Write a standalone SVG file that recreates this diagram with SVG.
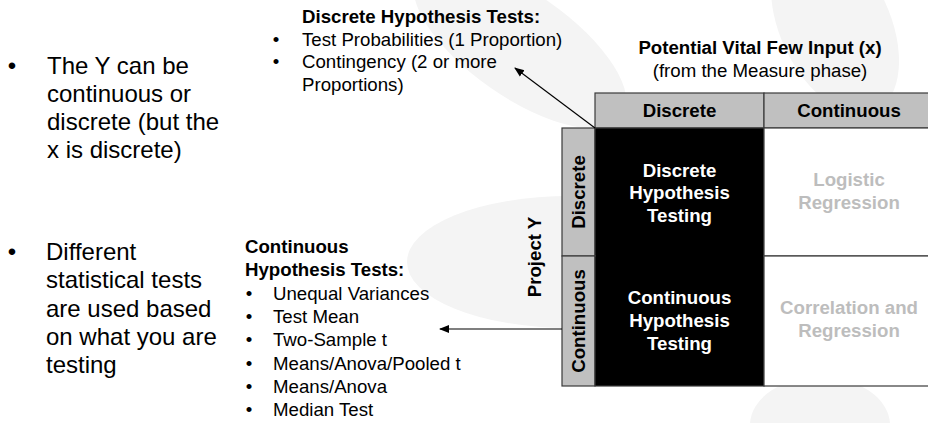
<svg xmlns="http://www.w3.org/2000/svg" width="928" height="423" viewBox="0 0 928 423">
  <defs>
    <style>
      text { font-family: "Liberation Sans", Arial, sans-serif; }
      .big { font-size: 24px; fill: #000; }
      .sm { font-size: 18.67px; fill: #000; }
      .b { font-weight: bold; }
      .hdr { fill: #c0c0c0; stroke: #3a3a3a; stroke-width: 1.2; }
      .blk { fill: #000; stroke: #3a3a3a; stroke-width: 1.2; }
      .wht { fill: #fff; stroke: #3a3a3a; stroke-width: 1.2; }
      .cw { font-size: 18.67px; font-weight: bold; fill: #fff; text-anchor: middle; }
      .cg { font-size: 18.67px; font-weight: bold; fill: #bdbdbd; text-anchor: middle; }
      .ck { font-size: 18.67px; font-weight: bold; fill: #000; text-anchor: middle; }
      .wm { fill: #f4f4f4; }
      .conn { stroke: #000; stroke-width: 1.2; fill: none; marker-end: url(#head); }
    </style>
    <marker id="head" viewBox="0 0 10 10" refX="9" refY="5" markerWidth="10" markerHeight="10" markerUnits="userSpaceOnUse" orient="auto">
      <path d="M0,1 L10,5 L0,9 Z" fill="#000"/>
    </marker>
  </defs>

  <rect width="928" height="423" fill="#fff"/>

  <!-- faint background emblem: petals around the matrix -->
  <g id="watermark">
    <ellipse class="wm" cx="570" cy="262" rx="163" ry="66"/>
    <ellipse class="wm" cx="520" cy="45" rx="125" ry="52" transform="rotate(35 520 45)"/>
    <ellipse class="wm" cx="835" cy="25" rx="55" ry="95" transform="rotate(-25 835 25)"/>
    <ellipse class="wm" cx="820" cy="425" rx="70" ry="48"/>
  </g>

  <!-- left notes -->
  <g id="note-y">
    <text class="big" x="12" y="74" text-anchor="middle">•</text>
    <text class="big" x="47" y="74">The Y can be</text>
    <text class="big" x="47" y="102">continuous or</text>
    <text class="big" x="47" y="130">discrete (but the</text>
    <text class="big" x="47" y="158">x is discrete)</text>
  </g>
  <g id="note-tests">
    <text class="big" x="12" y="260" text-anchor="middle">•</text>
    <text class="big" x="46" y="260">Different</text>
    <text class="big" x="46" y="288">statistical tests</text>
    <text class="big" x="46" y="317">are used based</text>
    <text class="big" x="46" y="345">on what you are</text>
    <text class="big" x="46" y="373">testing</text>
  </g>

  <!-- discrete test list -->
  <g id="discrete-tests">
    <text class="sm b" x="302" y="23">Discrete Hypothesis Tests:</text>
    <text class="sm" x="276" y="45.5" text-anchor="middle">•</text>
    <text class="sm" x="302" y="45.5">Test Probabilities (1 Proportion)</text>
    <text class="sm" x="276" y="68" text-anchor="middle">•</text>
    <text class="sm" x="302" y="68">Contingency (2 or more</text>
    <text class="sm" x="302" y="90.5">Proportions)</text>
  </g>

  <!-- continuous test list -->
  <g id="continuous-tests">
    <text class="sm b" x="245" y="253">Continuous</text>
    <text class="sm b" x="245" y="276">Hypothesis Tests:</text>
    <g class="sm">
      <text x="249" y="299.5" text-anchor="middle">•</text>
      <text x="249" y="323" text-anchor="middle">•</text>
      <text x="249" y="346" text-anchor="middle">•</text>
      <text x="249" y="369.5" text-anchor="middle">•</text>
      <text x="249" y="393" text-anchor="middle">•</text>
      <text x="249" y="416" text-anchor="middle">•</text>
    </g>
    <text class="sm" x="273" y="299.5">Unequal Variances</text>
    <text class="sm" x="273" y="323">Test Mean</text>
    <text class="sm" x="273" y="346">Two-Sample t</text>
    <text class="sm" x="273" y="369.5">Means/Anova/Pooled t</text>
    <text class="sm" x="273" y="393">Means/Anova</text>
    <text class="sm" x="273" y="416">Median Test</text>
  </g>

  <!-- axis titles -->
  <g id="x-title">
    <text class="ck" x="760" y="54">Potential Vital Few Input (x)</text>
    <text class="sm" x="760" y="77" text-anchor="middle">(from the Measure phase)</text>
  </g>
  <g id="y-title">
    <text class="ck" transform="translate(541,257) rotate(-90)">Project Y</text>
  </g>

  <!-- matrix -->
  <g id="col-discrete">
    <rect class="hdr" x="595" y="93" width="169" height="35"/>
    <text class="ck" x="679.5" y="117">Discrete</text>
  </g>
  <g id="col-continuous">
    <rect class="hdr" x="764" y="93" width="170" height="35"/>
    <text class="ck" x="849" y="117">Continuous</text>
  </g>
  <g id="row-discrete">
    <rect class="hdr" x="562" y="128" width="33" height="128"/>
    <text class="ck" transform="translate(585,192) rotate(-90)">Discrete</text>
  </g>
  <g id="row-continuous">
    <rect class="hdr" x="562" y="256" width="33" height="130"/>
    <text class="ck" transform="translate(585,321) rotate(-90)">Continuous</text>
  </g>
  <g id="cell-dd">
    <rect class="blk" x="595" y="128" width="169" height="128"/>
    <text class="cw" x="679.5" y="176.5">Discrete</text>
    <text class="cw" x="679.5" y="199">Hypothesis</text>
    <text class="cw" x="679.5" y="221.5">Testing</text>
  </g>
  <g id="cell-cd">
    <rect class="blk" x="595" y="256" width="169" height="130"/>
    <text class="cw" x="679.5" y="304">Continuous</text>
    <text class="cw" x="679.5" y="327">Hypothesis</text>
    <text class="cw" x="679.5" y="349.5">Testing</text>
  </g>
  <rect x="596" y="250" width="167" height="12" fill="#000"/>
  <g id="cell-dc">
    <rect class="wht" x="764" y="128" width="170" height="128"/>
    <text class="cg" x="849" y="186">Logistic</text>
    <text class="cg" x="849" y="208.5">Regression</text>
  </g>
  <g id="cell-cc">
    <rect class="wht" x="764" y="256" width="170" height="130"/>
    <text class="cg" x="849" y="314">Correlation and</text>
    <text class="cg" x="849" y="337">Regression</text>
  </g>

  <!-- connectors -->
  <g id="connectors">
    <line class="conn" x1="595" y1="128" x2="515" y2="68"/>
    <line class="conn" x1="562" y1="329" x2="440" y2="329"/>
  </g>
</svg>
